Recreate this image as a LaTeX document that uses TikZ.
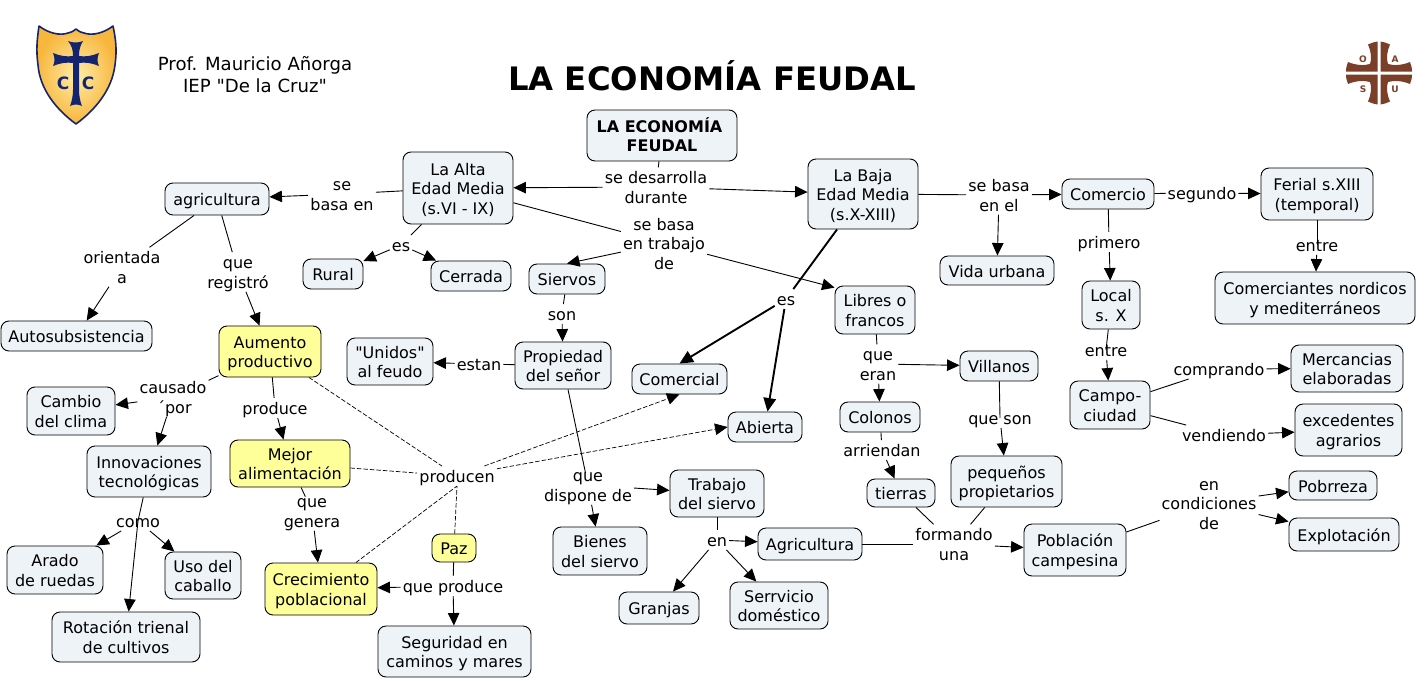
\documentclass[tikz,border=0pt]{standalone}
\usepackage{fontspec}
\setmainfont{DejaVu Sans}
\newfontfamily\plainq{DejaVu Sans}
\usetikzlibrary{arrows.meta}
\definecolor{boxfill}{HTML}{EDF3F6}
\definecolor{boxyellow}{HTML}{FFFF99}
\definecolor{navy}{HTML}{14246E}
\definecolor{brownlogo}{HTML}{7B3E28}
\definecolor{goldA}{HTML}{FFEDA8}
\definecolor{goldB}{HTML}{F7B63C}
\newcommand\topstrut{\rule{0pt}{16.35pt}}
\newcommand\botstrut{\rule[-3.15pt]{0pt}{3.15pt}}
\newcommand\cpt[7][]{\node[concept,#1,minimum width={(#5-#3)*1pt},minimum height={(#6-#4)*1pt}] (#2) at ({(#3+#5)/2},{(#4+#6)/2}) {\topstrut #7\botstrut};}
\newcommand\lab[4]{\node[linklabel] (#1) at (#2,#3) {\topstrut #4\botstrut};}
\tikzset{
  concept/.style={draw=black,line width=0.9pt,fill=boxfill,rounded corners=8pt,inner sep=0pt,align=center,font=\fontsize{16}{19.5}\selectfont},
  yel/.style={fill=boxyellow},
  linklabel/.style={inner xsep=2pt,inner ysep=0pt,align=center,font=\fontsize{16}{19.5}\selectfont},
  link/.style={line width=0.9pt,draw=black},
  arrow/.style={link,-{Triangle[length=12.5pt,width=11.5pt]}},
  strong/.style={line width=1.9pt,draw=black},
  strongarrow/.style={strong,-{Triangle[length=13.5pt,width=12.5pt]}},
  dashlink/.style={line width=0.7pt,draw=black,dash pattern=on 4.5pt off 2pt},
  dasharrow/.style={dashlink,-{Triangle[length=12.5pt,width=11.5pt]}},
}
\begin{document}
\begin{tikzpicture}[x=1pt,y=-1pt]
\useasboundingbox (0,0) rectangle (1426,680);
% shield logo
\shade[inner color=goldA,outer color=goldB]
  (39,26) .. controls (48,33) and (60,36) .. (68,33) .. controls (72,32) and (74,31) .. (76,29)
  .. controls (78,31) and (80,32) .. (84,33) .. controls (92,36) and (104,33) .. (113,26)
  .. controls (116,40) and (117,50) .. (115,65) .. controls (112,90) and (95,110) .. (76,124)
  .. controls (57,110) and (40,90) .. (38,65) .. controls (36,50) and (37,40) .. (39,26) -- cycle;
\draw[navy,line width=1.6pt,line join=round]
  (39,26) .. controls (48,33) and (60,36) .. (68,33) .. controls (72,32) and (74,31) .. (76,29)
  .. controls (78,31) and (80,32) .. (84,33) .. controls (92,36) and (104,33) .. (113,26)
  .. controls (116,40) and (117,50) .. (115,65) .. controls (112,90) and (95,110) .. (76,124)
  .. controls (57,110) and (40,90) .. (38,65) .. controls (36,50) and (37,40) .. (39,26) -- cycle;
\fill[navy] (68,41) .. controls (72,43) and (79,43) .. (83,41) .. controls (80,46) and (79,50) .. (79,56)
  .. controls (85,57) and (92,56) .. (99,53) .. controls (97,58) and (97,62) .. (99,66)
  .. controls (92,63) and (85,62) .. (79,63) -- (79,90) .. controls (79,95) and (80,101) .. (82,106)
  .. controls (78,104) and (74,104) .. (70,106) .. controls (72,101) and (73,95) .. (73,90) -- (73,63)
  .. controls (67,62) and (60,63) .. (53,66) .. controls (55,62) and (55,58) .. (53,53)
  .. controls (60,56) and (67,57) .. (73,56) .. controls (73,50) and (72,46) .. (68,41) -- cycle;
\node[navy,font=\bfseries\fontsize{17}{17}\selectfont,inner sep=0pt] (logoCa) at (63,83) {C};
\node[navy,font=\bfseries\fontsize{17}{17}\selectfont,inner sep=0pt] (logoCb) at (88,83) {C};
% cross logo
\foreach \sx/\sy in {1/1,-1/1,1/-1,-1/-1}{
  \fill[brownlogo,shift={(1379,73)},xscale=\sx,yscale=\sy]
    (1.5,-1.5) -- (1.5,-31.5) .. controls (5,-31) and (8,-30) .. (11,-28.5)
    .. controls (8,-22) and (7,-14) .. (9,-9) .. controls (15,-7) and (24,-8) .. (31,-11)
    .. controls (32.5,-8) and (33,-4) .. (33,-1.5) -- cycle;
}
\foreach \nm/\tx/\dx/\dy in {logoO/O/-16/-13.5,logoA/A/16/-13.5,logoS/S/-16/16,logoU/U/16/16}{
  \node[brownlogo,font=\bfseries\fontsize{9}{9}\selectfont,inner sep=0pt] (\nm) at (1379+\dx,73+\dy) {\tx};
}
% header texts
\node[font=\fontsize{18.1}{22}\selectfont,align=center,inner sep=0pt] (author) at (255,75) {Prof. Mauricio Añorga\\IEP {\plainq"}De la Cruz{\plainq"}};
\node[font=\bfseries\fontsize{32.3}{32}\selectfont,inner sep=0pt] (title) at (712,76) {LA ECONOMÍA FEUDAL};
% concepts
\cpt[font=\bfseries\fontsize{16}{19.5}\selectfont]{main}{587}{110}{737}{161}{LA ECONOMÍA\hspace*{5pt}\\FEUDAL}
\cpt{alta}{403}{152}{513}{224}{La Alta\\Edad Media\\(s.VI - IX)}
\cpt{baja}{808}{159}{918}{229}{La Baja\\Edad Media\\(s.X-XIII)}
\cpt{agri}{165}{183}{269}{215}{agricultura}
\cpt{auto}{1}{321}{152}{351}{Autosubsistencia}
\cpt[yel]{aumento}{219}{326}{321}{377}{Aumento\\productivo}
\cpt{unidos}{347}{338}{433}{385}{{\plainq"}Unidos{\plainq"}\\al feudo}
\cpt{cambio}{27}{387}{115}{435}{Cambio\\del clima}
\cpt{innov}{87}{446}{211}{497}{Innovaciones\\tecnológicas}
\cpt[yel]{mejor}{230}{440}{350}{487}{Mejor\\alimentación}
\cpt{arado}{7}{546}{103}{594}{Arado\\de ruedas}
\cpt{uso}{165}{552}{241}{599}{Uso del\\caballo}
\cpt{rot}{52}{612}{200}{662}{Rotación trienal\\de cultivos}
\cpt[yel]{crec}{265}{563}{377}{615}{Crecimiento\\poblacional}
\cpt[yel]{paz}{432}{534}{476}{562}{Paz}
\cpt{seg}{378}{626}{531}{677}{Seguridad en\\caminos y mares}
\cpt{rural}{303}{259}{363}{289}{Rural}
\cpt{cerrada}{431}{261}{511}{291}{Cerrada}
\cpt{siervos}{529}{264}{605}{294}{Siervos}
\cpt{prop}{515}{342}{611}{389}{Propiedad\\del señor}
\cpt{comercial}{632}{364}{727}{394}{Comercial}
\cpt{abierta}{728}{412}{802}{442}{Abierta}
\cpt{trabajo}{670}{470}{764}{517}{Trabajo\\del siervo}
\cpt{bienes}{553}{527}{647}{575}{Bienes\\del siervo}
\cpt{agric}{758}{528}{862}{560}{Agricultura}
\cpt{granjas}{619}{592}{699}{624}{Granjas}
\cpt{serv}{730}{582}{828}{629}{Serrvicio\\doméstico}
\cpt{libres}{835}{286}{915}{334}{Libres o\\francos}
\cpt{villanos}{960}{351}{1038}{381}{Villanos}
\cpt{colonos}{840}{402}{920}{432}{Colonos}
\cpt{vida}{940}{256}{1054}{285}{Vida urbana}
\cpt{comercio}{1062}{179}{1154}{209}{Comercio}
\cpt{ferial}{1261}{168}{1373}{220}{Ferial s.XIII\\(temporal)}
\cpt{comerc}{1215}{272}{1415}{324}{Comerciantes nordicos\\y mediterráneos}
\cpt{local}{1082}{281}{1140}{329}{Local\\s. X}
\cpt{campo}{1070}{381}{1150}{429}{Campo-\\ciudad}
\cpt{merc}{1291}{345}{1403}{392}{Mercancias\\elaboradas}
\cpt{exced}{1295}{404}{1402}{456}{excedentes\\agrarios}
\cpt{tierras}{867}{479}{935}{507}{tierras}
\cpt{peq}{951}{456}{1062}{507}{pequeños\\propietarios}
\cpt{pobl}{1024}{524}{1126}{576}{Población\\campesina}
\cpt{pobr}{1289}{471}{1377}{500}{Pobrreza}
\cpt{expl}{1289}{518}{1399}{551}{Explotación}
% linking phrases
\lab{lBasaEn}{342}{194}{se\\basa en}
\lab{lDes}{656}{187}{se desarrolla\\durante}
\lab{lEs}{401}{245}{es}
\lab{lTrab}{664}{243}{se basa\\en trabajo\\de}
\lab{lSon}{562}{314}{son}
\lab{lEstan}{479}{364}{estan}
\lab{lEsB}{786}{299}{es}
\lab{lOrient}{122}{267}{orientada\\a}
\lab{lReg}{238}{272}{que\\registró}
\lab{lCaus}{173}{397}{causado\\\,´por}
\lab{lProd}{275}{408}{produce}
\lab{lProducen}{457}{476}{producen}
\lab{lComo}{138}{521}{como}
\lab{lGen}{312}{511}{que\\genera}
\lab{lQP}{453}{586}{que produce}
\lab{lDisp}{588}{485}{que\\dispone de}
\lab{lEn}{717}{540}{en}
\lab{lBasaEl}{999}{195}{se basa\\en el}
\lab{lPrim}{1109}{242}{primero}
\lab{lSeg}{1202}{193}{segundo}
\lab{lEntreF}{1317}{245}{entre}
\lab{lEntreL}{1106}{350}{entre}
\lab{lComp}{1219}{369}{comprando}
\lab{lVend}{1224}{435}{vendiendo}
\lab{lQE}{878}{364}{que\\eran}
\lab{lQS}{1000}{418}{que son}
\lab{lArr}{882}{450}{arriendan}
\lab{lForm}{954}{544}{formando\\una}
\lab{lCond}{1209}{503}{en\\condiciones\\de}
% connectors
\draw[link] (main) -- (lDes);
\draw[arrow] (lDes) -- (alta);
\draw[arrow] (lDes) -- (baja);
\draw[link] (alta) -- (lBasaEn);
\draw[arrow] (lBasaEn) -- (agri);
\draw[link] (alta) -- (lEs);
\draw[arrow] (lEs) -- (rural);
\draw[arrow] (lEs) -- (cerrada);
\draw[link] (alta) -- (lTrab);
\draw[arrow] (lTrab) -- (siervos.north);
\draw[arrow] (lTrab) -- (libres.151);
\draw[link] (siervos) -- (lSon);
\draw[arrow] (lSon) -- (prop);
\draw[link] (prop) -- (lEstan);
\draw[arrow] (lEstan) -- (unidos);
\draw[link,shorten >=-8pt] (prop) -- (lDisp);
\draw[arrow] (lDisp) -- (trabajo);
\draw[arrow] (lDisp) -- (bienes);
\draw[link] (trabajo) -- (lEn);
\draw[arrow] (lEn) -- (agric);
\draw[arrow] (lEn) -- (granjas);
\draw[arrow] (lEn) -- (serv);
\draw[link] (agric) -- (lForm);
\draw[link] (tierras) -- (lForm);
\draw[link] (peq) -- (lForm);
\draw[arrow] (lForm) -- (pobl);
\draw[link] (pobl) -- (lCond);
\draw[arrow] (lCond) -- (pobr);
\draw[arrow] (lCond) -- (expl);
\draw[strong] (baja) -- (lEsB);
\draw[strongarrow] (lEsB) -- (comercial.north);
\draw[strongarrow] (lEsB) -- (abierta);
\draw[link] (baja) -- (lBasaEl);
\draw[arrow] (lBasaEl) -- (comercio);
\draw[arrow] (lBasaEl) -- (vida);
\draw[link] (comercio) -- (lSeg);
\draw[arrow] (lSeg) -- (ferial);
\draw[link] (ferial) -- (lEntreF.center);
\draw[arrow] (lEntreF) -- (comerc);
\draw[link] (comercio) -- (lPrim);
\draw[arrow] (lPrim) -- (local);
\draw[link] (local) -- (lEntreL.center);
\draw[arrow] (lEntreL) -- (campo);
\draw[link] (campo) -- (lComp);
\draw[arrow] (lComp) -- (merc);
\draw[link] (campo) -- (lVend);
\draw[arrow] (lVend) -- (exced);
\draw[link] (libres) -- (lQE);
\draw[arrow] (lQE) -- (villanos);
\draw[arrow] (lQE) -- (colonos);
\draw[link] (villanos) -- (lQS.center);
\draw[arrow] (lQS) -- (peq);
\draw[link] (colonos) -- (lArr);
\draw[arrow] (lArr) -- (tierras);
\draw[link] (agri) -- (lOrient);
\draw[arrow] (lOrient) -- (auto);
\draw[link] (agri) -- (lReg);
\draw[arrow] (lReg) -- (aumento);
\draw[link] (aumento) -- (lCaus);
\draw[arrow] (lCaus) -- (cambio);
\draw[arrow] (lCaus) -- (innov);
\draw[link] (aumento) -- (lProd);
\draw[arrow] (lProd) -- (mejor);
\draw[link] (innov) -- (lComo.center);
\draw[arrow] (lComo.center) -- (rot);
\draw[arrow] (lComo) -- (arado);
\draw[arrow] (lComo) -- (uso);
\draw[link,shorten >=-6pt] (mejor) -- (lGen);
\draw[arrow] (lGen) -- (crec);
\draw[dashlink] (aumento) -- (lProducen);
\draw[dashlink] (mejor) -- (lProducen);
\draw[dashlink] (crec) -- (lProducen.south);
\draw[dashlink] (paz) -- (lProducen.south);
\draw[dasharrow] (lProducen) -- (comercial.south);
\draw[dasharrow] (lProducen) -- (abierta.west);
\draw[link] (paz) -- (lQP);
\draw[arrow] (lQP) -- (crec);
\draw[arrow] (lQP) -- (seg);
\end{tikzpicture}
\end{document}
